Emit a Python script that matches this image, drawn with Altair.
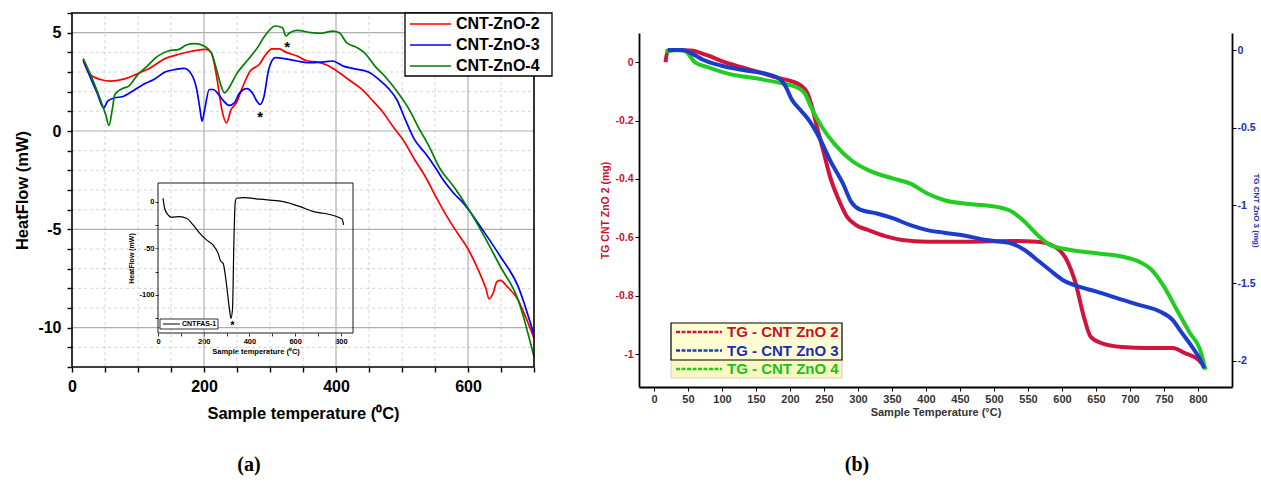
import altair as alt
import pandas as pd

FONT = "Liberation Sans"
SERIF = "Liberation Serif"
W, H = 1261, 483

# ================= Panel (a): DSC heat flow =================
a_names = ["CNT-ZnO-2", "CNT-ZnO-3", "CNT-ZnO-4"]
a_colors = ["#ff0000", "#0000ff", "#008000"]

a2_T = [17, 27, 43, 59, 81, 97, 119, 141, 162, 184, 203, 211, 219, 227, 234, 241, 249, 259, 270, 284,
        292, 303, 314, 324, 341, 357, 373, 389, 405, 422, 438, 454, 470, 486, 503, 519, 535, 551, 568, 584,
        600, 616, 627, 632, 638, 644, 649, 659, 676, 686, 700]
a2_HF = [3.56, 2.88, 2.62, 2.54, 2.66, 2.88, 3.22, 3.68, 3.90, 4.07, 4.15, 3.98, 2.79, 1.09, 0.41, 1.09, 1.43, 2.28, 3.05, 3.39,
         3.81, 4.18, 4.18, 4.01, 3.81, 3.56, 3.50, 3.30, 2.96, 2.54, 2.15, 1.60, 1.00, 0.24, -0.52, -1.45, -2.30, -3.32, -4.34, -5.19,
         -6.00, -7.10, -8.00, -8.54, -8.25, -7.65, -7.60, -7.90, -8.60, -9.35, -10.54]

a3_T = [17, 27, 38, 48, 54, 65, 76, 92, 108, 124, 141, 157, 170, 181, 189, 194, 197, 201, 208, 214,
        222, 230, 238, 246, 254, 265, 273, 280, 285, 291, 298, 308, 324, 341, 357, 378, 395, 411, 427, 449,
        465, 481, 492, 505, 519, 535, 551, 562, 578, 595, 600, 622, 649, 676, 700]
a3_HF = [3.64, 2.79, 1.94, 1.18, 1.52, 1.69, 1.74, 2.03, 2.37, 2.62, 3.00, 3.13, 3.18, 2.88, 2.11, 1.09, 0.50, 1.09, 2.11, 2.11,
         1.86, 1.52, 1.30, 1.43, 1.94, 2.15, 1.94, 1.52, 1.35, 1.77, 3.13, 3.73, 3.67, 3.56, 3.47, 3.50, 3.56, 3.30, 3.17, 3.00,
         2.62, 2.11, 1.60, 0.58, -0.44, -1.12, -1.88, -2.47, -3.15, -3.75, -3.97, -5.02, -6.38, -7.91, -10.37]

a4_T = [17, 30, 43, 51, 56, 61, 65, 76, 86, 100, 114, 130, 146, 162, 173, 186, 200, 211, 219, 226,
        231, 238, 249, 265, 281, 292, 308, 319, 324, 330, 341, 362, 378, 395, 405, 416, 432, 443, 459, 476,
        492, 511, 524, 541, 557, 578, 600, 622, 649, 676, 700]
a4_HF = [3.68, 2.71, 1.60, 0.84, 0.28, 1.09, 1.86, 2.15, 2.28, 2.88, 3.30, 3.81, 4.07, 4.15, 4.37, 4.44, 4.32, 3.98, 3.13, 2.28,
         1.94, 2.20, 2.88, 3.56, 4.24, 4.83, 5.34, 5.25, 4.83, 5.00, 5.12, 5.00, 4.97, 5.08, 5.00, 4.49, 4.24, 3.98, 3.30, 2.71,
         2.03, 1.09, 0.24, -0.78, -1.88, -2.81, -3.92, -5.19, -6.89, -8.59, -11.48]

a_star_T = [326, 285]
a_star_HF = [4.45, 0.9]

a_grid_minor_x = [50, 100, 150, 250, 300, 350, 450, 500, 550, 650]
a_grid_major_x = [200, 400, 600]
a_grid_minor_y = [-11, -9, -8, -7, -6, -4, -3, -2, -1, 1, 2, 3, 4]
a_grid_major_y = [-10, -5, 0, 5]

# inset (CNTFAS-1)
i_name = "CNTFAS-1"
i_T = [22, 29, 44, 59, 95, 125, 154, 183, 212, 241, 263, 274, 285, 300, 312, 319, 326, 332, 338, 344,
       373, 446, 549, 622, 680, 724, 805, 812]
i_HF = [3.6, -7.1, -14.3, -16.8, -16.1, -17.9, -25, -34, -41, -46.6, -55.5, -63.8, -66.3, -89.6, -114.6, -125.4, -114.6, -43, 0, 3.6,
        4.3, 2.6, 0, -5.4, -10.7, -12.5, -18.6, -25]
i_star_T = [325]
i_star_HF = [-130]

# ================= Panel (b): TG =================
b_names = ["TG - CNT ZnO 2", "TG - CNT ZnO 3", "TG - CNT ZnO 4"]
b_colors = ["#d0143c", "#1c3ccc", "#22cc22"]
b_text_colors = ["#c8102e", "#1a2cb8", "#14c414"]

b2_T = [17, 20, 29, 54, 79, 104, 129, 154, 178, 203, 216, 225, 231, 241, 250, 259, 272, 284, 297, 315,
        340, 365, 402, 464, 526, 564, 589, 607, 620, 632, 642, 657, 688, 725, 763, 781, 800, 809]
b2_W = [0.0, 0.038, 0.042, 0.040, 0.023, 0.0, -0.017, -0.034, -0.051, -0.066, -0.080, -0.103, -0.142, -0.233, -0.313, -0.393, -0.473, -0.530, -0.558, -0.575,
        -0.596, -0.609, -0.615, -0.615, -0.613, -0.615, -0.632, -0.678, -0.757, -0.871, -0.940, -0.962, -0.976, -0.979, -0.979, -0.997, -1.019, -1.042]

# CNT ZnO 3 is read on the right-hand axis
b3_T = [20, 42, 57, 73, 98, 129, 166, 185, 194, 202, 216, 228, 244, 259, 278, 290, 303, 328, 352, 377,
        402, 427, 452, 489, 526, 545, 564, 582, 601, 626, 651, 682, 713, 744, 763, 775, 791, 806, 809]
b3_W = [0.0, 0.0, -0.026, -0.064, -0.099, -0.127, -0.154, -0.186, -0.238, -0.313, -0.389, -0.452, -0.571, -0.710, -0.860, -0.977, -1.027, -1.052, -1.084, -1.127,
        -1.159, -1.176, -1.191, -1.223, -1.245, -1.287, -1.353, -1.416, -1.480, -1.524, -1.555, -1.599, -1.640, -1.683, -1.738, -1.813, -1.909, -2.016, -2.048]

b4_T = [17, 39, 48, 60, 79, 110, 154, 191, 209, 222, 231, 247, 265, 290, 315, 352, 377, 402, 427, 464,
        502, 526, 545, 564, 582, 607, 651, 688, 713, 732, 750, 769, 788, 803, 811]
b4_W = [0.038, 0.042, 0.034, 0.0, -0.017, -0.040, -0.057, -0.074, -0.085, -0.108, -0.154, -0.222, -0.279, -0.336, -0.370, -0.399, -0.416, -0.450, -0.473, -0.486,
        -0.495, -0.512, -0.547, -0.592, -0.626, -0.641, -0.655, -0.666, -0.683, -0.712, -0.769, -0.849, -0.928, -0.985, -1.054]

b_xticks = list(range(0, 801, 50))
b_left_ticks = [0, -0.2, -0.4, -0.6, -0.8, -1]
b_right_ticks = [0, -0.5, -1, -1.5, -2]


# ---------------- helpers ----------------
def long_df(series):
    rows = []
    for name, xs, ys in series:
        for i, (x, y) in enumerate(zip(xs, ys)):
            rows.append({"x": x, "y": y, "s": name, "i": i})
    return pd.DataFrame(rows)


def sc(domain, rng):
    return alt.Scale(domain=domain, range=rng, nice=False, zero=False)


def txt(size, weight="bold", color="black", font=FONT):
    return dict(font=font, fontSize=size, fontWeight=weight, color=color)


one = pd.DataFrame({"d": [0]})

# ---------------- panel (a) scales / axes ----------------
A_L, A_R, A_T, A_B = 72, 534, 13, 367
xA = sc([0, 700], [A_L, A_R])
yA = sc([-12, 6], [A_B, A_T])

axA_x = alt.Axis(orient="bottom", offset=A_B - H, values=list(range(0, 701, 50)),
                 labelExpr="datum.value % 200 == 0 ? datum.label : ''",
                 domain=False, grid=False, tickSize=5, tickWidth=1.4, tickColor="black",
                 labelFont=FONT, labelFontSize=16, labelFontWeight="bold", labelColor="black",
                 labelPadding=6, labelFlush=False, labelOverlap=False,
                 title="Sample temperature (⁰C)", titleFont=FONT, titleFontSize=16.5,
                 titleFontWeight="bold", titleColor="black", titlePadding=11)
axA_y = alt.Axis(orient="left", offset=-A_L, values=list(range(-12, 7)),
                 labelExpr="datum.value % 5 == 0 ? (datum.value < 0 ? '-' + abs(datum.value) : '' + datum.value) : ''",
                 domain=False, grid=False, tickSize=5, tickWidth=1.4, tickColor="black",
                 labelFont=FONT, labelFontSize=16, labelFontWeight="bold", labelColor="black",
                 labelPadding=6, labelOverlap=False,
                 title="HeatFlow (mW)", titleFont=FONT, titleFontSize=16.5,
                 titleFontWeight="bold", titleColor="black", titlePadding=7)

layers = []

# grid
def vgrid(vals, color, dash, width):
    df = pd.DataFrame({"g": vals, "lo": -12, "hi": 6})
    return alt.Chart(df).mark_rule(color=color, strokeDash=dash, strokeWidth=width).encode(
        x=alt.X("g:Q", scale=xA, axis=None), y=alt.Y("lo:Q", scale=yA, axis=None), y2="hi:Q")


def hgrid(vals, color, dash, width):
    df = pd.DataFrame({"g": vals, "lo": 0, "hi": 700})
    return alt.Chart(df).mark_rule(color=color, strokeDash=dash, strokeWidth=width).encode(
        y=alt.Y("g:Q", scale=yA, axis=None), x=alt.X("lo:Q", scale=xA, axis=None), x2="hi:Q")


layers += [vgrid(a_grid_minor_x, "#d4d4d4", [3, 3], 1), hgrid(a_grid_minor_y, "#d4d4d4", [3, 3], 1),
           vgrid(a_grid_major_x, "#b0b0b0", [1, 0], 1.2), hgrid(a_grid_major_y, "#b0b0b0", [1, 0], 1.2)]

dfA = long_df([(a_names[0], a2_T, a2_HF), (a_names[1], a3_T, a3_HF), (a_names[2], a4_T, a4_HF)])
layers.append(alt.Chart(dfA).mark_line(strokeWidth=1.7, interpolate="monotone").encode(
    x=alt.X("x:Q", scale=xA, axis=axA_x),
    y=alt.Y("y:Q", scale=yA, axis=axA_y),
    color=alt.Color("s:N", scale=alt.Scale(domain=a_names, range=a_colors), legend=None),
    order="i:Q"))

frameA = pd.DataFrame({"x0": [0], "x1": [700], "y0": [-12], "y1": [6]})
layers.append(alt.Chart(frameA).mark_rect(fill="transparent", stroke="black", strokeWidth=1.6).encode(
    x=alt.X("x0:Q", scale=xA, axis=None), x2="x1:Q", y=alt.Y("y0:Q", scale=yA, axis=None), y2="y1:Q"))

layers.append(alt.Chart(pd.DataFrame({"x": a_star_T, "y": a_star_HF})).mark_text(
    text="*", baseline="middle", dy=4, **txt(15)).encode(
    x=alt.X("x:Q", scale=xA, axis=None), y=alt.Y("y:Q", scale=yA, axis=None)))

# legend (a)
layers.append(alt.Chart(one).mark_rect(fill="white", stroke="black", strokeWidth=1.3).encode(
    x=alt.value(405), x2=alt.value(552), y=alt.value(13), y2=alt.value(76)))
legA_y = alt.Y("s:N", scale=alt.Scale(type="point", domain=a_names, range=[24, 66], padding=0), axis=None)
dfLA = pd.DataFrame({"s": a_names})
layers.append(alt.Chart(dfLA).mark_rule(strokeWidth=1.7).encode(
    x=alt.value(410), x2=alt.value(451), y=legA_y,
    color=alt.Color("s:N", scale=alt.Scale(domain=a_names, range=a_colors), legend=None)))
layers.append(alt.Chart(dfLA).mark_text(align="left", baseline="middle", **txt(16)).encode(
    x=alt.value(456), y=legA_y, text="s:N"))

# ---------------- inset ----------------
I_L, I_R, I_T, I_B = 158, 353, 183, 333
xI = sc([0, 853], [I_L, I_R])
yI = sc([-141, 20], [I_B, I_T])
axI_x = alt.Axis(orient="bottom", offset=I_B - H, values=list(range(0, 801, 100)),
                 labelExpr="datum.value % 200 == 0 ? datum.label : ''",
                 domain=False, grid=False, tickSize=3, tickColor="black", tickWidth=0.8,
                 labelFont=FONT, labelFontSize=7.5, labelFontWeight="bold", labelColor="black",
                 labelPadding=1, labelFlush=False, labelOverlap=False,
                 title="Sample temperature (⁰C)", titleFont=FONT, titleFontSize=7.5,
                 titleFontWeight="bold", titleColor="black", titlePadding=3)
axI_y = alt.Axis(orient="left", offset=-I_L, values=list(range(-125, 1, 25)),
                 labelExpr="datum.value % 50 == 0 ? (datum.value < 0 ? '-' + abs(datum.value) : '' + datum.value) : ''",
                 domain=False, grid=False, tickSize=3, tickColor="black", tickWidth=0.8,
                 labelFont=FONT, labelFontSize=7.5, labelFontWeight="bold", labelColor="black",
                 labelPadding=1, labelOverlap=False,
                 title="HeatFlow (mW)", titleFont=FONT, titleFontSize=7,
                 titleFontWeight="bold", titleColor="black", titlePadding=4)

dfI = long_df([(i_name, i_T, i_HF)])
layers.append(alt.Chart(dfI).mark_line(strokeWidth=1.2, color="black", interpolate="monotone").encode(
    x=alt.X("x:Q", scale=xI, axis=axI_x), y=alt.Y("y:Q", scale=yI, axis=axI_y), order="i:Q"))
frameI = pd.DataFrame({"x0": [0], "x1": [853], "y0": [-141], "y1": [20]})
layers.append(alt.Chart(frameI).mark_rect(fill="transparent", stroke="black", strokeWidth=0.9).encode(
    x=alt.X("x0:Q", scale=xI, axis=None), x2="x1:Q", y=alt.Y("y0:Q", scale=yI, axis=None), y2="y1:Q"))
layers.append(alt.Chart(pd.DataFrame({"x": i_star_T, "y": i_star_HF})).mark_text(
    text="*", baseline="middle", dy=3, **txt(11)).encode(
    x=alt.X("x:Q", scale=xI, axis=None), y=alt.Y("y:Q", scale=yI, axis=None)))
layers.append(alt.Chart(one).mark_rect(fill="white", stroke="black", strokeWidth=0.8).encode(
    x=alt.value(160), x2=alt.value(218), y=alt.value(319), y2=alt.value(329)))
layers.append(alt.Chart(one).mark_rule(color="black", strokeWidth=1).encode(
    x=alt.value(163), x2=alt.value(180), y=alt.value(324)))
layers.append(alt.Chart(pd.DataFrame({"s": [i_name]})).mark_text(
    align="left", baseline="middle", **txt(7)).encode(x=alt.value(182), y=alt.value(324), text="s:N"))

# ---------------- panel (b) ----------------
B_L, B_R, B_T, B_B = 639, 1232, 33, 387
xB = sc([-22, 850], [B_L, B_R])
yBL = sc([-1.113, 0.1], [B_B, B_T])
yBR = sc([-2.169, 0.11], [B_B, B_T])

axB_x = alt.Axis(orient="bottom", offset=B_B - H, values=b_xticks,
                 domain=True, domainColor="black", domainWidth=1.8, grid=False,
                 tickSize=4, tickColor="black", tickWidth=1,
                 labelFont=FONT, labelFontSize=11, labelFontWeight="bold", labelColor="#333333",
                 labelPadding=2, labelFlush=False, labelOverlap=False,
                 title="Sample Temperature (°C)", titleFont=FONT, titleFontSize=11,
                 titleFontWeight="bold", titleColor="#333333", titlePadding=2)
axB_l = alt.Axis(orient="left", offset=-B_L, values=b_left_ticks,
                 labelExpr="datum.value < 0 ? '-' + format(abs(datum.value), '~g') : '0'",
                 domain=True, domainColor="black", domainWidth=1.8, grid=False,
                 tickSize=4, tickColor="black", tickWidth=1,
                 labelFont=FONT, labelFontSize=10.5, labelFontWeight="bold", labelColor=b_text_colors[0],
                 labelPadding=2, labelOverlap=False,
                 title="TG  CNT ZnO 2 (mg)", titleFont=FONT, titleFontSize=10.5,
                 titleFontWeight="bold", titleColor=b_text_colors[0], titlePadding=4)
axB_r = alt.Axis(orient="right", offset=B_R - W, values=b_right_ticks,
                 labelExpr="datum.value < 0 ? '-' + format(abs(datum.value), '~g') : '0'",
                 domain=True, domainColor="black", domainWidth=1.8, grid=False,
                 tickSize=4, tickColor="black", tickWidth=1,
                 labelFont=FONT, labelFontSize=10.5, labelFontWeight="bold", labelColor=b_text_colors[1],
                 labelPadding=1, labelOverlap=False,
                 title="TG  CNT ZnO 3 (mg)", titleFont=FONT, titleFontSize=8,
                 titleFontWeight="bold", titleColor=b_text_colors[1],
                 titleX=19, titleBaseline="bottom")

dfB_left = long_df([(b_names[0], b2_T, b2_W), (b_names[2], b4_T, b4_W)])
dfB_right = long_df([(b_names[1], b3_T, b3_W)])
colB = alt.Color("s:N", scale=alt.Scale(domain=b_names, range=b_colors), legend=None)

layers.append(alt.Chart(dfB_left).mark_line(strokeWidth=4, interpolate="monotone").encode(
    x=alt.X("x:Q", scale=xB, axis=axB_x), y=alt.Y("y:Q", scale=yBL, axis=axB_l), color=colB, order="i:Q"))
layers.append(alt.Chart(dfB_right).mark_line(strokeWidth=4, interpolate="monotone").encode(
    x=alt.X("x:Q", scale=xB, axis=None), y=alt.Y("y:Q", scale=yBR, axis=axB_r), color=colB, order="i:Q"))

# legend (b)
layers.append(alt.Chart(one).mark_rect(fill="#fbf7c4", stroke="#c8c8b0", strokeWidth=0.8).encode(
    x=alt.value(671), x2=alt.value(842), y=alt.value(359), y2=alt.value(378)))
layers.append(alt.Chart(one).mark_rect(fill="#fffed2", stroke="black", strokeWidth=1.2).encode(
    x=alt.value(671), x2=alt.value(842), y=alt.value(323), y2=alt.value(360)))
legB_y = alt.Y("s:N", scale=alt.Scale(type="point", domain=b_names, range=[332, 369], padding=0), axis=None)
dfLB = pd.DataFrame({"s": b_names})
layers.append(alt.Chart(dfLB).mark_rule(strokeWidth=2.5, strokeDash=[4, 1.5]).encode(
    x=alt.value(676), x2=alt.value(722), y=legB_y,
    color=alt.Color("s:N", scale=alt.Scale(domain=b_names, range=b_colors), legend=None)))
layers.append(alt.Chart(dfLB).mark_text(align="left", baseline="middle", font=FONT, fontSize=15,
                                        fontWeight="bold").encode(
    x=alt.value(727), y=legB_y, text="s:N",
    color=alt.Color("s:N", scale=alt.Scale(domain=b_names, range=b_text_colors), legend=None)))

# captions
layers.append(alt.Chart(pd.DataFrame({"t": ["(a)"]})).mark_text(
    baseline="middle", **txt(20, "bold", "black", SERIF)).encode(x=alt.value(249), y=alt.value(465), text="t:N"))
layers.append(alt.Chart(pd.DataFrame({"t": ["(b)"]})).mark_text(
    baseline="middle", **txt(20, "bold", "black", SERIF)).encode(x=alt.value(857), y=alt.value(465), text="t:N"))

chart = alt.layer(*layers).resolve_scale(
    x="independent", y="independent", color="independent"
).properties(
    width=W, height=H, autosize=alt.AutoSizeParams(type="none"), padding=0, background="white"
).configure_view(strokeWidth=0)

chart.save("out.html", embed_options={"renderer": "svg", "actions": False})
